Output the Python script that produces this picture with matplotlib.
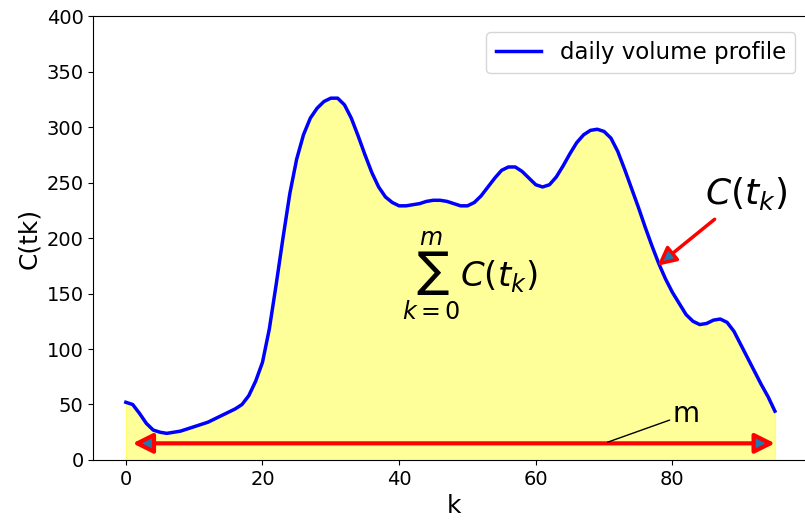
import numpy as np
import matplotlib.pyplot as plt

# daily volume profile, one value per interval k = 0..95
k = np.arange(96)
volume = [52, 50, 42, 33, 27, 25, 24, 25, 26, 28,
          30, 32, 34, 37, 40, 43, 46, 50, 58, 71,
          88, 118, 158, 200, 240, 271, 293, 308, 317, 323,
          326, 326, 320, 308, 292, 275, 259, 246, 237, 232,
          229, 229, 230, 231, 233, 234, 234, 233, 231, 229,
          229, 232, 238, 246, 254, 261, 264, 264, 260, 254,
          248, 246, 248, 255, 265, 276, 286, 293, 297, 298,
          296, 290, 278, 262, 245, 228, 210, 193, 177, 163,
          151, 141, 131, 125, 122, 123, 126, 127, 124, 116,
          104, 92, 80, 68, 57, 44]
x_ticks = [0, 20, 40, 60, 80]

arrow_y = 15

fig = plt.figure(figsize=(8.05, 5.26), dpi=100)
ax = fig.add_axes([0.116, 0.1255, 0.895, 0.844])

ax.plot(k, volume, color="blue", lw=2.5, solid_joinstyle="round",
        label="daily volume profile")
ax.fill_between(k, volume, color="yellow", alpha=0.4)

ax.set_ylim(0, 400)
ax.set_xlim(-4.75, 100.7)
ax.set_xticks(x_ticks)
ax.set_xlabel("k", fontsize=18)
ax.set_ylabel("C(tk)", fontsize=18)
ax.tick_params(labelsize=14)
ax.legend(loc="upper right", fontsize=16.5, bbox_to_anchor=(0.99, 0.99))

# span of the m intervals
ax.annotate("", xy=(1, arrow_y), xytext=(95, arrow_y),
            arrowprops=dict(arrowstyle="<|-|>", edgecolor="red",
                            facecolor="tab:blue", lw=3,
                            mutation_scale=30, shrinkA=0, shrinkB=0))
ax.annotate("m", xy=(70.5, arrow_y + 1), xytext=(80, 34), fontsize=20,
            arrowprops=dict(arrowstyle="-", color="black", lw=1,
                            shrinkA=0, shrinkB=0))

ax.annotate(r"$C(t_k)$", xy=(77.8, 175), xytext=(90.8, 240), fontsize=26,
            ha="center", va="center",
            arrowprops=dict(arrowstyle="-|>", edgecolor="red",
                            facecolor="tab:blue", lw=2.5,
                            mutation_scale=28, shrinkA=5, shrinkB=0))

ax.text(50.3, 166, r"$\sum_{k=0}^{m} C(t_k)$", fontsize=24.5,
        ha="center", va="center")

fig.savefig("out.png")
